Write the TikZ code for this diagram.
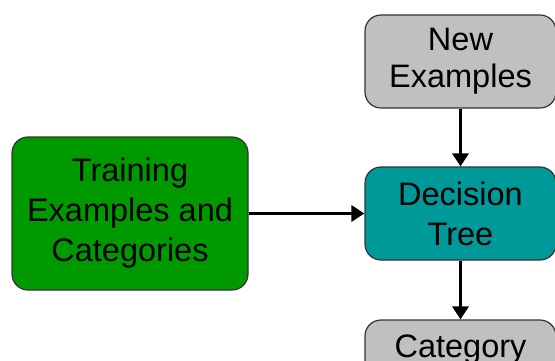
\documentclass[tikz,border=0pt]{standalone}
\usepackage{fontspec}
\setmainfont{Liberation Sans}
\usepackage{tikz}
\usetikzlibrary{arrows.meta}
\definecolor{traingreen}{RGB}{0,153,0}
\definecolor{treeteal}{RGB}{0,153,153}
\definecolor{boxgray}{RGB}{192,192,192}
\tikzstyle{block}=[draw=black!80,line width=1.2pt,rounded corners=16pt,align=center,
  inner sep=0pt,font=\fontsize{32.5}{40}\selectfont]
\tikzstyle{flow}=[line width=3.2pt,-{Triangle[length=13pt,width=16pt]}]

\begin{document}
\begin{tikzpicture}[x=1pt,y=-1pt]
        \useasboundingbox (0,0) rectangle (555,360);

        \node[block,fill=traingreen,minimum width=236pt,minimum height=153pt] (train) at (130,213.5)
          {Training\\Examples and\\Categories};
        \node[block,fill=boxgray,minimum width=191pt,minimum height=93pt] (newex) at (460.5,61.5)
          {\raisebox{-3pt}{New}\\Examples};
        \node[block,fill=treeteal,minimum width=191pt,minimum height=93pt] (tree) at (460.5,213.5)
          {Decision\\Tree};
        \node[block,fill=boxgray,minimum width=191pt,minimum height=93pt] (cat) at (460.5,366.5)
          {Category\\{}};

        \draw[flow] (train) -- (tree);
        \draw[flow] (newex) -- (tree);
        \draw[flow] (tree) -- (cat);
      \end{tikzpicture}
\end{document}
